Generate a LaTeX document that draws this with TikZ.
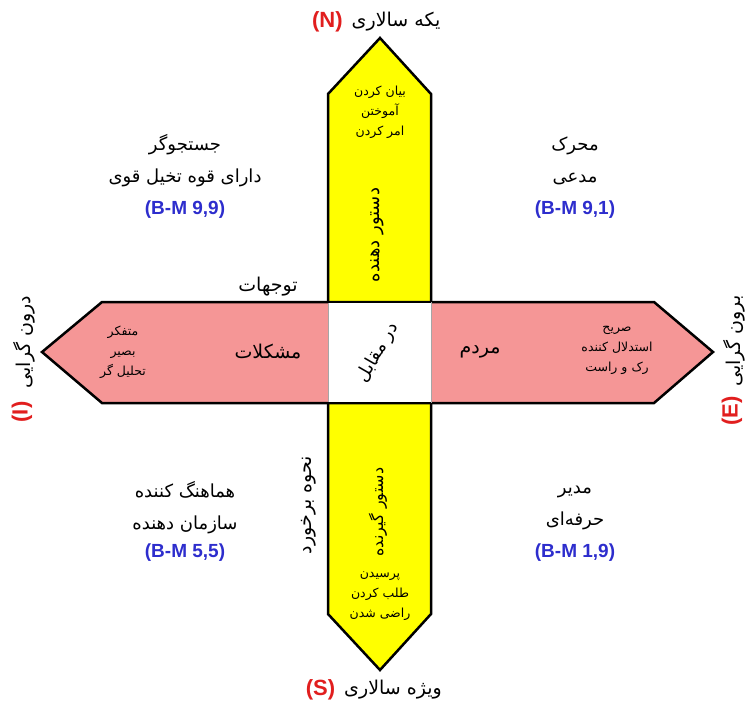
\documentclass[tikz,border=0pt]{standalone}
\usepackage{fontspec}
\usepackage{tikz}
\usetikzlibrary{positioning}
\setmainfont{Liberation Sans}
\newfontfamily\fa[Script=Arabic]{DejaVu Sans}
\TeXXeTstate=1
\newcommand{\fatxt}[1]{{\fa\beginR #1\endR}}
\definecolor{baryellow}{RGB}{255,255,0}
\definecolor{barpink}{RGB}{245,150,150}
\definecolor{bmblue}{RGB}{45,45,205}
\definecolor{polered}{RGB}{225,30,30}
\tikzset{
    bar/.style={draw=black, line width=2.5pt, line join=miter},
    big/.style={font=\fontsize{18}{32}\selectfont, align=center},
    mid/.style={font=\fontsize{19}{22}\selectfont, align=center},
    role/.style={font=\fontsize{18}{22}\selectfont},
    small/.style={font=\fontsize{12.5}{20}\selectfont, align=center},
    bm/.style={font=\fontsize{19}{21}\selectfont\bfseries, text=bmblue},
    pole/.style={font=\fontsize{22}{24}\selectfont\bfseries, text=polered},
}

\begin{document}
\begin{tikzpicture}[x=1pt, y=-1pt]
        \useasboundingbox (0,0) rectangle (747,709);
        % the two bars
        \filldraw[bar, fill=baryellow] (328,94) -- (380,38) -- (431,94) -- (431,614) -- (380,670) -- (328,614) -- cycle;
        \filldraw[bar, fill=barpink] (102,302) -- (654,302) -- (713,352) -- (654,403) -- (102,403) -- (42,352) -- cycle;
        \fill[white] (328,302) rectangle (431,403);
        \draw[gray!70, thin] (328,302) -- (328,403) (431,302) -- (431,403);
        \draw[line width=2.5pt] (328,302) -- (431,302) (328,403) -- (431,403);

        % poles
        \node[mid] (nTitle) at (396,22) {\fatxt{یکه سالاری}};
        \node[pole, left=2pt of nTitle] (nPole) {(N)};
        \node[mid] (sTitle) at (393,690) {\fatxt{ویژه سالاری}};
        \node[pole, left=2pt of sTitle] (sPole) {(S)};
        \node[mid, rotate=90] (iTitle) at (24,342) {\fatxt{درون گرایی}};
        \node[pole, rotate=90] (iPole) at (22,412) {(I)};
        \node[mid, rotate=90] (eTitle) at (734,341) {\fatxt{برون گرایی}};
        \node[pole, rotate=90] (ePole) at (732,411) {(E)};

        % quadrants
        \node[big] (tlText) at (185,161) {\fatxt{جستجوگر}\\\fatxt{دارای قوه تخیل قوی}};
        \node[bm] (tlBM) at (185,210) {(B-M 9,9)};
        \node[big] (trText) at (575,161) {\fatxt{محرک}\\\fatxt{مدعی}};
        \node[bm] (trBM) at (575,210) {(B-M 9,1)};
        \node[big] (blText) at (185,508) {\fatxt{هماهنگ کننده}\\\fatxt{سازمان دهنده}};
        \node[bm] (blBM) at (185,553) {(B-M 5,5)};
        \node[big] (brText) at (575,508) {\fatxt{مدیر}\\\fatxt{حرفه‌ای}};
        \node[bm] (brBM) at (575,553) {(B-M 1,9)};

        % inside the bars
        \node[small] (nVerbs) at (380,112) {\fatxt{بیان کردن}\\\fatxt{آموختن}\\\fatxt{امر کردن}};
        \node[role, rotate=90] (nRole) at (377,235) {\fatxt{دستور دهنده}};
        \node[role, font=\fontsize{16}{20}\selectfont, rotate=90] (sRole) at (378,512) {\fatxt{دستور گیرنده}};
        \node[small] (sVerbs) at (380,596) {\fatxt{پرسیدن}\\\fatxt{طلب کردن}\\\fatxt{راضی شدن}};
        \node[mid] (iRole) at (268,352) {\fatxt{مشکلات}};
        \node[small] (iVerbs) at (123,352) {\fatxt{متفکر}\\\fatxt{بصیر}\\\fatxt{تحلیل گر}};
        \node[mid] (eRole) at (480,352) {\fatxt{مردم}};
        \node[small] (eVerbs) at (617,350) {\fatxt{صریح}\\\fatxt{استدلال کننده}\\\fatxt{رک و راست}};
        \node[role, rotate=60] (center) at (378,353) {\fatxt{در مقابل}};

        % axis names
        \node[mid] (focus) at (268,287) {\fatxt{توجهات}};
        \node[mid, rotate=90] (approach) at (309,505) {\fatxt{نحوه برخورد}};
\end{tikzpicture}
\end{document}
